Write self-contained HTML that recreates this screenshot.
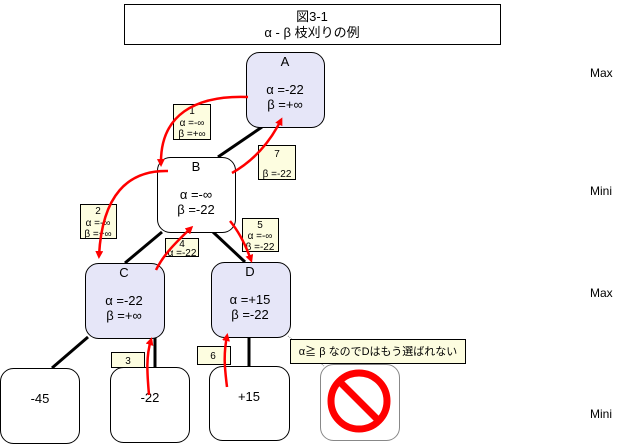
<!DOCTYPE html>
<html><head><meta charset="utf-8"><style>
html,body{margin:0;padding:0;background:#fff;}
svg{display:block;font-family:"Liberation Sans","Noto Sans CJK JP",sans-serif;}
</style></head><body>
<svg width="640" height="445" viewBox="0 0 640 445" xmlns="http://www.w3.org/2000/svg">
<defs>
<marker id="ah" markerWidth="8" markerHeight="8" refX="5" refY="4" orient="auto" markerUnits="userSpaceOnUse">
<path d="M0,0 L8,4 L0,8 Z" fill="#ff0000"/></marker>
</defs>
<rect x="124.5" y="4.5" width="376" height="40" fill="#fff" stroke="#000"/>
<text x="312" y="21" font-size="13" text-anchor="middle">図3-1</text>
<text x="312" y="37" font-size="13" text-anchor="middle">α - β 枝刈りの例</text>

<g font-size="12" fill="#000">
<text x="590" y="77">Max</text>
<text x="590" y="195">Mini</text>
<text x="590" y="297">Max</text>
<text x="590" y="418">Mini</text>
</g>

<g stroke="#000" stroke-width="3">
<line x1="262" y1="127" x2="218" y2="157"/>
<line x1="162" y1="232" x2="125" y2="263"/>
<line x1="213" y1="232" x2="245" y2="262"/>
<line x1="88" y1="337" x2="52" y2="368"/>
<line x1="155" y1="338" x2="155" y2="368"/>
<line x1="249" y1="337" x2="249" y2="366"/>
</g>
<line x1="288" y1="336" x2="324" y2="366" stroke="#888" stroke-dasharray="1,1"/>

<g stroke="#000" stroke-width="1">
<rect x="246.5" y="52.5" width="78" height="75" rx="13" fill="#e6e6f8"/>
<rect x="157.5" y="157.5" width="78" height="75" rx="13" fill="#fff"/>
<rect x="85.5" y="263.5" width="79" height="75" rx="13" fill="#e6e6f8"/>
<rect x="211.5" y="262.5" width="79" height="75" rx="13" fill="#e6e6f8"/>
<rect x="0.5" y="368.5" width="79" height="75" rx="13" fill="#fff"/>
<rect x="110.5" y="367.5" width="79" height="75" rx="13" fill="#fff"/>
<rect x="209.5" y="366.5" width="80" height="74" rx="13" fill="#fff"/>
<rect x="320.5" y="364.5" width="79" height="76" rx="13" fill="#fff" stroke="#888"/>
</g>

<g font-size="13" text-anchor="middle">
<text x="285" y="66">A</text><text x="285" y="94">α =-22</text><text x="285" y="109">β =+∞</text>
<text x="196" y="171">B</text><text x="196" y="199">α =-∞</text><text x="196" y="214">β =-22</text>
<text x="124" y="277">C</text><text x="124" y="305">α =-22</text><text x="124" y="320">β =+∞</text>
<text x="250" y="276">D</text><text x="250" y="304">α =+15</text><text x="250" y="319">β =-22</text>
<text x="40" y="403">-45</text>
<text x="150" y="402">-22</text>
<text x="249" y="401">+15</text>
</g>

<circle cx="359" cy="401" r="28" fill="none" stroke="#ff0000" stroke-width="7"/>
<line x1="340" y1="382" x2="378" y2="420" stroke="#ff0000" stroke-width="7"/>

<g fill="#fdfde0" stroke="#000" stroke-width="1">
<rect x="173.5" y="104.5" width="37" height="35"/>
<rect x="258.5" y="145.5" width="37" height="34"/>
<rect x="80.5" y="204.5" width="36" height="34"/>
<rect x="165.5" y="238.5" width="33" height="18"/>
<rect x="242.5" y="218.5" width="36" height="33"/>
<rect x="111.5" y="352.5" width="33" height="15"/>
<rect x="197.5" y="346.5" width="33" height="18"/>
<rect x="290.5" y="339.5" width="175" height="24"/>
</g>
<g font-size="10" text-anchor="middle">
<text x="192" y="114">1</text><text x="192" y="126">α =-∞</text><text x="192" y="137">β =+∞</text>
<text x="277" y="157">7</text><text x="277" y="177">β =-22</text>
<text x="98" y="214">2</text><text x="98" y="226">α =-∞</text><text x="98" y="237">β =+∞</text>
<text x="182" y="247">4</text><text x="182" y="256">α =-22</text>
<text x="260" y="228">5</text><text x="260" y="239">α =-∞</text><text x="260" y="250">β =-22</text>
<text x="128" y="364">3</text>
<text x="213" y="359">6</text>
</g>
<text x="378" y="355" font-size="11" text-anchor="middle">α≧ β なのでDはもう選ばれない</text>

<g fill="none" stroke="#ff0000" stroke-width="2.5" marker-end="url(#ah)">
<path d="M248,97 C195,95 160,115 161,164"/>
<path d="M232,173 C255,160 270,142 281,120"/>
<path d="M168,171 C128,170 102,195 99,256"/>
<path d="M156,270 C163,256 172,246 191,228"/>
<path d="M230,221 C240,233 246,246 251,260"/>
<path d="M149,395 C147,372 146,356 151,340"/>
<path d="M227,387 C225,370 223,356 227,336"/>
</g>
</svg>
</body></html>
